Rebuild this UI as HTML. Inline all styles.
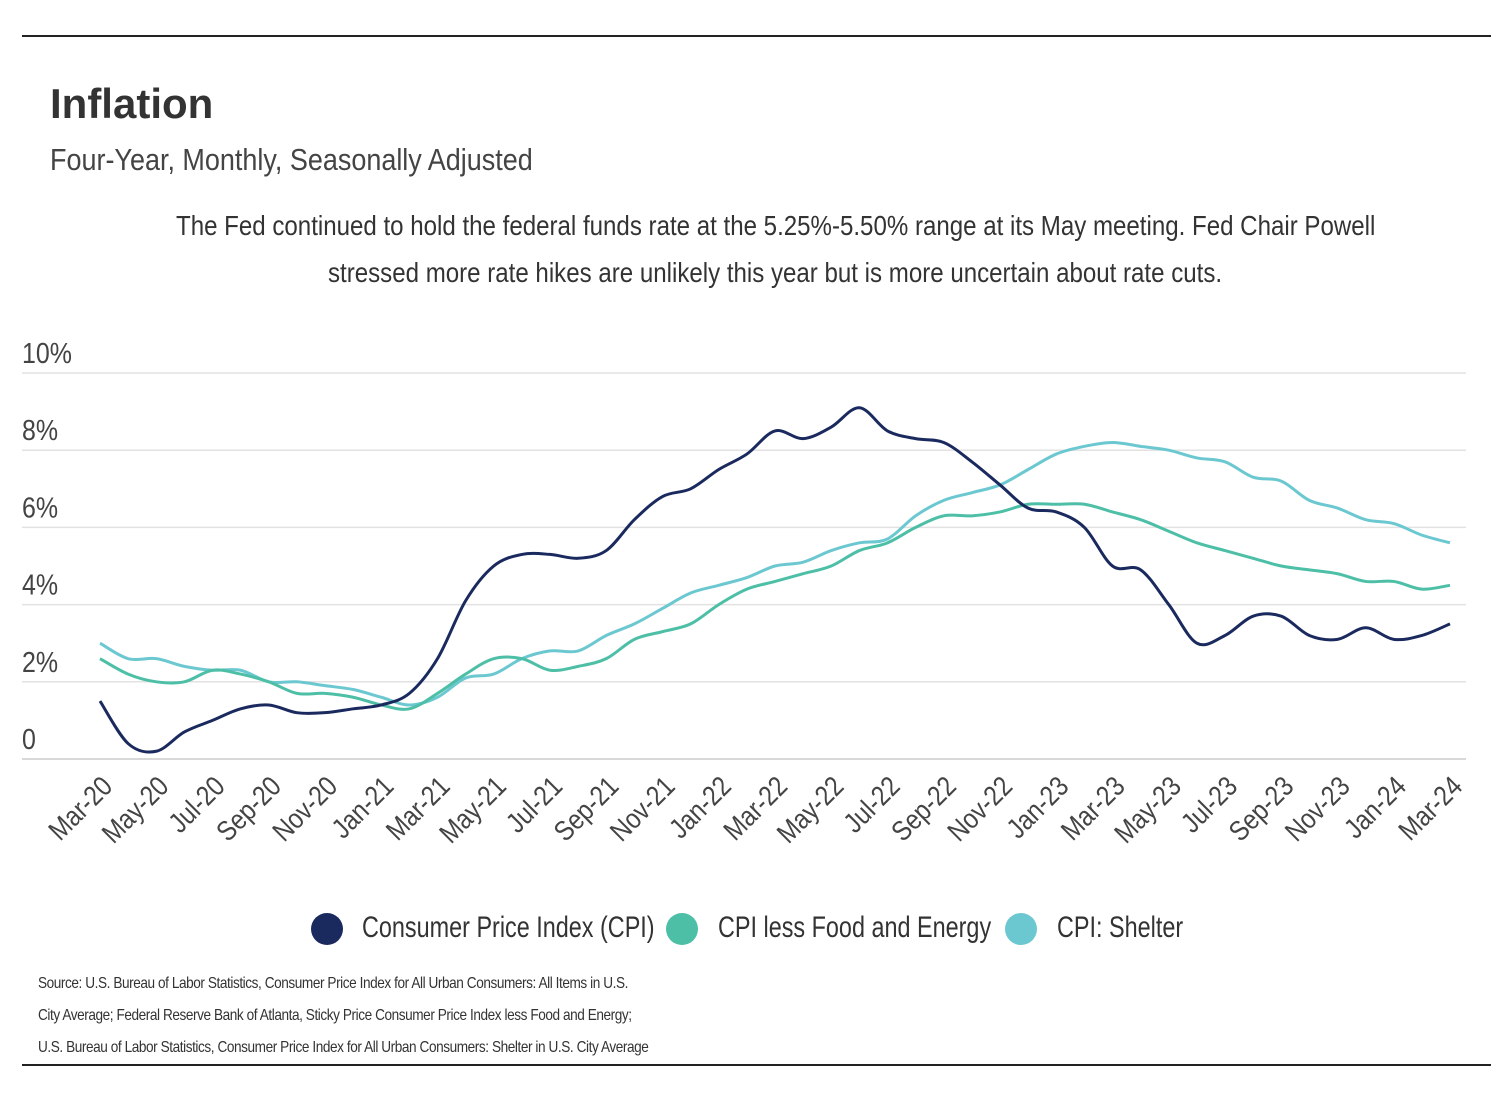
<!DOCTYPE html>
<html><head><meta charset="utf-8">
<style>
body{margin:0;background:#fff;width:1512px;height:1109px;overflow:hidden;font-family:"Liberation Sans",sans-serif;color:#333;}
.abs{position:absolute;white-space:nowrap}
.n{transform:scaleX(.86);transform-origin:left top}
.dot{position:absolute;width:32px;height:32px;border-radius:50%}
</style></head><body>
<div class="abs" style="left:22px;top:35px;width:1469px;height:2px;background:#222"></div>
<div class="abs" style="left:50px;top:80px;font-size:42px;font-weight:bold;color:#333">Inflation</div>
<div class="abs n" style="left:50px;top:142px;font-size:31px;color:#444;transform:scaleX(.87)">Four-Year, Monthly, Seasonally Adjusted</div>
<div class="abs n" style="left:176px;top:210px;font-size:28px;color:#333">The Fed continued to hold the federal funds rate at the 5.25%-5.50% range at its May meeting. Fed Chair Powell</div>
<div class="abs n" style="left:328px;top:257px;font-size:28px;color:#333">stressed more rate hikes are unlikely this year but is more uncertain about rate cuts.</div>
<svg id="chart" class="abs" style="left:0;top:0" width="1512" height="1109"></svg>
<div>
 <div class="dot" style="left:311px;top:913px;background:#1b2a5e"></div>
 <div class="abs n" style="left:362px;top:911px;font-size:30px;transform:scaleX(.78)">Consumer Price Index (CPI)</div>
 <div class="dot" style="left:666px;top:913px;background:#4dbfa6"></div>
 <div class="abs n" style="left:718px;top:911px;font-size:30px;transform:scaleX(.78)">CPI less Food and Energy</div>
 <div class="dot" style="left:1005px;top:913px;background:#6cc8d0"></div>
 <div class="abs n" style="left:1057px;top:911px;font-size:30px;transform:scaleX(.78)">CPI: Shelter</div>
</div>
<div class="abs n" style="left:38px;top:968px;font-size:16px;line-height:32px;color:#333;letter-spacing:-0.5px;transform:scaleX(.85)">Source: U.S. Bureau of Labor Statistics, Consumer Price Index for All Urban Consumers: All Items in U.S.<br>City Average; Federal Reserve Bank of Atlanta, Sticky Price Consumer Price Index less Food and Energy;<br>U.S. Bureau of Labor Statistics, Consumer Price Index for All Urban Consumers: Shelter in U.S. City Average</div>
<div class="abs" style="left:22px;top:1064px;width:1469px;height:2px;background:#222"></div>
<script>
const months=["Mar-20","Apr-20","May-20","Jun-20","Jul-20","Aug-20","Sep-20","Oct-20","Nov-20","Dec-20","Jan-21","Feb-21","Mar-21","Apr-21","May-21","Jun-21","Jul-21","Aug-21","Sep-21","Oct-21","Nov-21","Dec-21","Jan-22","Feb-22","Mar-22","Apr-22","May-22","Jun-22","Jul-22","Aug-22","Sep-22","Oct-22","Nov-22","Dec-22","Jan-23","Feb-23","Mar-23","Apr-23","May-23","Jun-23","Jul-23","Aug-23","Sep-23","Oct-23","Nov-23","Dec-23","Jan-24","Feb-24","Mar-24"];
const cpi=[1.5,0.4,0.2,0.7,1.0,1.3,1.4,1.2,1.2,1.3,1.4,1.7,2.6,4.1,5.0,5.3,5.3,5.2,5.4,6.2,6.8,7.0,7.5,7.9,8.5,8.3,8.6,9.1,8.5,8.3,8.2,7.7,7.1,6.5,6.4,6.0,5.0,4.9,4.0,3.0,3.2,3.7,3.7,3.2,3.1,3.4,3.1,3.2,3.5];
const core=[2.6,2.2,2.0,2.0,2.3,2.2,2.0,1.7,1.7,1.6,1.4,1.3,1.7,2.2,2.6,2.6,2.3,2.4,2.6,3.1,3.3,3.5,4.0,4.4,4.6,4.8,5.0,5.4,5.6,6.0,6.3,6.3,6.4,6.6,6.6,6.6,6.4,6.2,5.9,5.6,5.4,5.2,5.0,4.9,4.8,4.6,4.6,4.4,4.5];
const shelter=[3.0,2.6,2.6,2.4,2.3,2.3,2.0,2.0,1.9,1.8,1.6,1.4,1.6,2.1,2.2,2.6,2.8,2.8,3.2,3.5,3.9,4.3,4.5,4.7,5.0,5.1,5.4,5.6,5.7,6.3,6.7,6.9,7.1,7.5,7.9,8.1,8.2,8.1,8.0,7.8,7.7,7.3,7.2,6.7,6.5,6.2,6.1,5.8,5.6];
const yTicks=[0,2,4,6,8,10];
const yTickLabels=["0","2%","4%","6%","8%","10%"];
const svg=document.getElementById('chart');const NS='http://www.w3.org/2000/svg';
const x0=100,x1=1450,yBase=759,yTop=373;
const xs=i=>x0+(x1-x0)*i/(months.length-1);
const ys=v=>yBase-(yBase-yTop)*v/10;
function mk(t,a,p){const e=document.createElementNS(NS,t);for(const k in a)e.setAttribute(k,a[k]);(p||svg).appendChild(e);return e;}
yTicks.forEach((v,i)=>{
 const g=mk('line',{x1:22,x2:1466,y1:ys(v),y2:ys(v),stroke:v===0?'#ccc':'#e2e2e2','stroke-width':1.5});
 
 
 const t=mk('text',{x:0,y:0,'font-size':29,fill:'#444',transform:`translate(22,${ys(v)-10}) scale(0.86,1)`});
 t.textContent=yTickLabels[i];
 
 
});
months.forEach((m,i)=>{if(i%2)return;
 const t=mk('text',{x:0,y:0,'font-size':28,fill:'#444','text-anchor':'end',transform:`translate(${xs(i)+14},${788}) rotate(-45) scale(0.86,1)`});
 t.textContent=m;
 
 
});
function path(vals){const p=vals.map((v,i)=>[xs(i),ys(v)]);let d=`M${p[0][0]},${p[0][1]}`;
 for(let i=0;i<p.length-1;i++){const a=p[i-1]||p[i],b=p[i],c=p[i+1],e=p[i+2]||c;const k=1/6;
  d+=` C${b[0]+(c[0]-a[0])*k},${b[1]+(c[1]-a[1])*k} ${c[0]-(e[0]-b[0])*k},${c[1]-(e[1]-b[1])*k} ${c[0]},${c[1]}`;}
 return d;}
[[shelter,'#6cc8d0','shelter-line'],[core,'#4dbfa6','core-cpi-line'],[cpi,'#1b2a5e','cpi-line']].forEach(([v,c,n])=>{
 const l=mk('path',{d:path(v),fill:'none',stroke:c,'stroke-width':3});
 
 
});
</script>
</body></html>
